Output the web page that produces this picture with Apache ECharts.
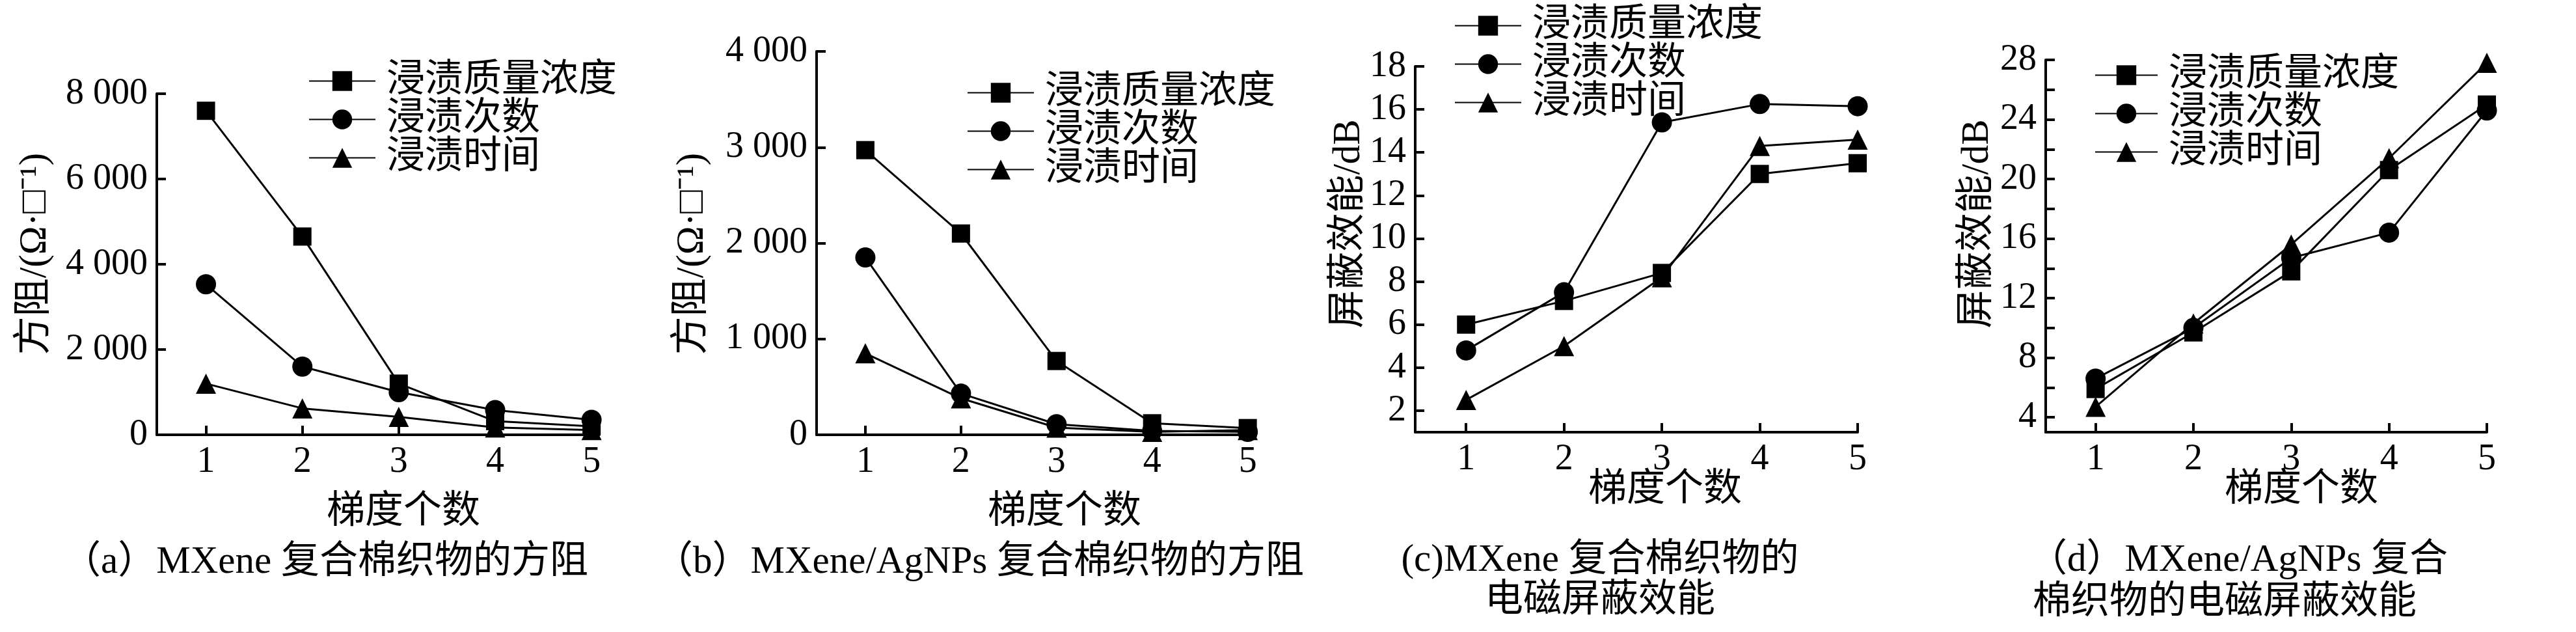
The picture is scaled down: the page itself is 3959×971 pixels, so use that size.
<!DOCTYPE html>
<html>
<head>
<meta charset="utf-8">
<script src="https://cdn.jsdelivr.net/npm/echarts@6/dist/echarts.min.js"></script>
<style>
  html, body { margin: 0; padding: 0; background: #fff; }
  #chart { width: 3959px; height: 971px; }
</style>
</head>
<body>
<div id="chart"></div>
<script>
// 梯度个数
const gradeCount = [1, 2, 3, 4, 5];
const seriesNames = ['浸渍质量浓度', '浸渍次数', '浸渍时间'];

// (a) MXene 方阻
const resMXeneConc = [7600, 4650, 1200, 320, 200];
const resMXeneTimes = [3530, 1600, 1000, 580, 350];
const resMXeneTime = [1200, 620, 420, 170, 110];
// (b) MXene/AgNPs 方阻
const resAgConc = [2970, 2100, 770, 120, 70];
const resAgTimes = [1850, 430, 110, 40, 30];
const resAgTime = [850, 380, 75, 30, 50];
// (c) MXene 屏蔽效能
const seMXeneConc = [6.0, 7.1, 8.4, 13.0, 13.5];
const seMXeneTimes = [4.8, 7.5, 15.4, 16.25, 16.15];
const seMXeneTime = [2.5, 5.0, 8.2, 14.3, 14.6];
// (d) MXene/AgNPs 屏蔽效能
const seAgConc = [5.9, 9.7, 13.8, 20.6, 25.0];
const seAgTimes = [6.6, 10.0, 14.7, 16.4, 24.6];
const seAgTime = [4.7, 10.3, 15.6, 21.4, 27.8];

// 刻度
const resTicksA = [0, 2000, 4000, 6000, 8000];
const resTicksB = [0, 1000, 2000, 3000, 4000];
const seTicksC = [2, 4, 6, 8, 10, 12, 14, 16, 18];
const seTickMarksD = [4, 6, 8, 10, 12, 14, 16, 18, 20, 22, 24, 26, 28];
const seLabelsD = [4, 8, 12, 16, 20, 24, 28];

const FONT = "'Liberation Serif', 'Noto Sans CJK SC'";
const FS = 56;      // 数字
const FS_CJK = 59;  // 中文文字

const chart = echarts.init(document.getElementById('chart'));

function thousands(v) {
    if (v >= 1000) {
        const s = String(v);
        return s.slice(0, s.length - 3) + ' ' + s.slice(s.length - 3);
    }
    return String(v);
}

function xAxisCfg(gridIndex, min, max) {
    return {
        type: 'value', gridIndex: gridIndex, min: min, max: max,
        axisLine: { lineStyle: { color: '#000', width: 4 } },
        axisTick: { inside: true, length: 14, lineStyle: { color: '#000', width: 4 }, customValues: gradeCount },
        axisLabel: { customValues: gradeCount, color: '#000', fontSize: FS, fontFamily: FONT, margin: 14 },
        splitLine: { show: false }
    };
}

function yAxisCfg(gridIndex, min, max, ticks, labels, fmt) {
    return {
        type: 'value', gridIndex: gridIndex, min: min, max: max,
        axisLine: { show: true, lineStyle: { color: '#000', width: 4 } },
        axisTick: { show: true, inside: true, length: 14, lineStyle: { color: '#000', width: 4 }, customValues: ticks },
        axisLabel: { customValues: labels, color: '#000', fontSize: FS, fontFamily: FONT, margin: 14, formatter: fmt },
        splitLine: { show: false }
    };
}

const symbols = ['rect', 'circle', 'triangle'];
const symbolSizes = [28, 31, 31];

function lineSeries(idx, k, values) {
    return {
        type: 'line', name: seriesNames[k],
        xAxisIndex: idx, yAxisIndex: idx,
        data: gradeCount.map((g, i) => [g, values[i]]),
        symbol: symbols[k], symbolSize: symbolSizes[k],
        itemStyle: { color: '#000' },
        lineStyle: { color: '#000', width: 3 },
        animation: false
    };
}

function legendCfg(left, top, rowH, w) {
    return {
        orient: 'vertical', left: left, top: top,
        itemWidth: w, itemHeight: 38, itemGap: 0,
        data: seriesNames,
        selectedMode: false,
        textStyle: { fontSize: FS_CJK, fontFamily: FONT, color: '#000', lineHeight: rowH, padding: [0, 0, 0, 12] }
    };
}

function txt(x, y, text, opts) {
    opts = opts || {};
    return {
        type: 'text', x: x, y: y, rotation: opts.rot || 0,
        style: {
            text: text, x: 0, y: 0,
            font: FS_CJK + 'px ' + FONT,
            fill: '#000',
            textAlign: opts.align || 'center',
            textVerticalAlign: 'middle'
        }
    };
}

const option = {
    backgroundColor: '#fff',
    animation: false,
    grid: [
        { left: 241, top: 144, width: 680, height: 524 },
        { left: 1255, top: 79, width: 670, height: 589 },
        { left: 2175, top: 102, width: 680, height: 562 },
        { left: 3144, top: 92, width: 678, height: 572 }
    ],
    xAxis: [
        xAxisCfg(0, 0.49, 5.08),
        xAxisCfg(1, 0.49, 5.05),
        xAxisCfg(2, 0.48, 5),
        xAxisCfg(3, 0.49, 5)
    ],
    yAxis: [
        yAxisCfg(0, 0, 8000, resTicksA, resTicksA, thousands),
        yAxisCfg(1, 0, 4000, resTicksB, resTicksB, thousands),
        yAxisCfg(2, 1, 18, seTicksC, seTicksC),
        yAxisCfg(3, 3, 28, seTickMarksD, seLabelsD)
    ],
    legend: [
        legendCfg(469, 90, 58, 102),
        legendCfg(1481, 108, 56, 102),
        legendCfg(2230, 5, 53, 102),
        legendCfg(3214, 81, 52, 96)
    ],
    series: [
        lineSeries(0, 0, resMXeneConc), lineSeries(0, 1, resMXeneTimes), lineSeries(0, 2, resMXeneTime),
        lineSeries(1, 0, resAgConc), lineSeries(1, 1, resAgTimes), lineSeries(1, 2, resAgTime),
        lineSeries(2, 0, seMXeneConc), lineSeries(2, 1, seMXeneTimes), lineSeries(2, 2, seMXeneTime),
        lineSeries(3, 0, seAgConc), lineSeries(3, 1, seAgTimes), lineSeries(3, 2, seAgTime)
    ],
    graphic: [
        txt(54, 390, '方阻/(Ω·□⁻¹)', { rot: Math.PI / 2 }),
        txt(1064, 390, '方阻/(Ω·□⁻¹)', { rot: Math.PI / 2 }),
        txt(2073, 344, '屏蔽效能/dB', { rot: Math.PI / 2 }),
        txt(3039, 344, '屏蔽效能/dB', { rot: Math.PI / 2 }),
        txt(620, 787, '梯度个数'),
        txt(1636, 787, '梯度个数'),
        txt(2559, 753, '梯度个数'),
        txt(3537, 753, '梯度个数'),
        txt(500, 864, '（a）MXene 复合棉织物的方阻'),
        txt(1505, 864, '（b）MXene/AgNPs 复合棉织物的方阻'),
        txt(2459, 861, '(c)MXene 复合棉织物的'),
        txt(2459, 923, '电磁屏蔽效能'),
        txt(3118, 861, '（d）MXene/AgNPs 复合', { align: 'left' }),
        txt(3124, 926, '棉织物的电磁屏蔽效能', { align: 'left' })
    ]
};

chart.setOption(option);
</script>
</body>
</html>
